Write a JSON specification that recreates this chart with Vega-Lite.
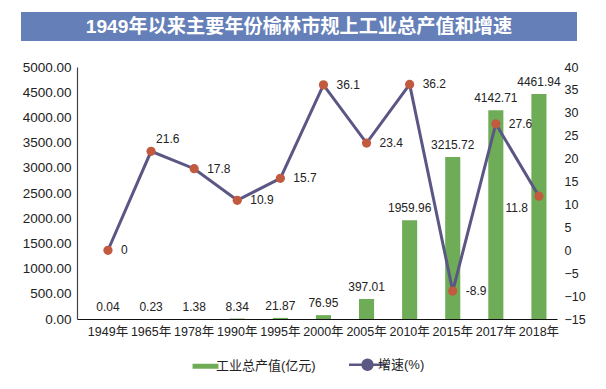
{
  "$schema": "https://vega.github.io/schema/vega-lite/v6.json",
  "background": "white",
  "padding": {"left": 21, "top": 12, "right": 0, "bottom": 0},
  "config": {
    "view": {"stroke": null},
    "concat": {"spacing": 19},
    "font": "Liberation Sans, Noto Sans CJK SC",
    "axis": {"labelFont": "Liberation Sans, Noto Sans CJK SC", "labelColor": "#222", "grid": false, "ticks": false, "title": null}
  },
  "vconcat": [
    {
      "width": 556,
      "height": 29,
      "view": {"fill": "#6580b9", "stroke": null},
      "data": {"values": [{"t": "1949年以来主要年份榆林市规上工业总产值和增速"}]},
      "mark": {"type": "text", "color": "white", "fontSize": 19.2, "fontWeight": "bold", "font": "Liberation Sans, Noto Sans CJK SC", "baseline": "middle", "align": "center"},
      "encoding": {"text": {"field": "t", "type": "nominal"}}
    },
    {
      "align": "none",
      "spacing": 0,
      "hconcat": [
        {
          "width": 1,
          "height": 1,
          "data": {"values": []},
          "mark": "text"
        },
        {
          "width": 480,
          "height": 252,
          "data": {"values": [
            {"year": "1949年", "output": 0.04, "growth": 0},
            {"year": "1965年", "output": 0.23, "growth": 21.6},
            {"year": "1978年", "output": 1.38, "growth": 17.8},
            {"year": "1990年", "output": 8.34, "growth": 10.9},
            {"year": "1995年", "output": 21.87, "growth": 15.7},
            {"year": "2000年", "output": 76.95, "growth": 36.1},
            {"year": "2005年", "output": 397.01, "growth": 23.4},
            {"year": "2010年", "output": 1959.96, "growth": 36.2},
            {"year": "2015年", "output": 3215.72, "growth": -8.9},
            {"year": "2017年", "output": 4142.71, "growth": 27.6},
            {"year": "2018年", "output": 4461.94, "growth": 11.8}
          ]},
          "encoding": {
            "x": {
              "field": "year", "type": "nominal", "sort": null,
              "scale": {"paddingInner": 0.65, "paddingOuter": 0.394, "align": 0.69},
              "axis": {"labelAngle": 0, "labelFontSize": 12.5, "labelPadding": 6, "domainColor": "#111", "domainWidth": 1.2}
            }
          },
          "layer": [
            {
              "encoding": {
                "y": {
                  "field": "output", "type": "quantitative",
                  "scale": {"domain": [0, 5000], "nice": false},
                  "axis": {"orient": "left", "values": [0, 500, 1000, 1500, 2000, 2500, 3000, 3500, 4000, 4500, 5000], "format": ".2f", "labelFontSize": 13.5, "labelPadding": 6, "domainColor": "#444", "domainWidth": 1.2}
                }
              },
              "layer": [
                {
                  "mark": {"type": "bar", "color": "#6fac57"},
                  "encoding": {
                    "color": {
                      "datum": "工业总产值(亿元)",
                      "scale": {"domain": ["工业总产值(亿元)", "增速(%)"], "range": ["#6fac57", "#5b5785"]},
                      "legend": {
                        "title": null,
                        "orient": "none",
                        "direction": "horizontal",
                        "legendX": 178,
                        "legendY": 346,
                        "symbolSize": 1369,
                        "labelFontSize": 13,
                        "labelColor": "#222",
                        "labelFont": "Liberation Sans, Noto Sans CJK SC",
                        "labelOffset": 4,
                        "columnPadding": 28,
                        "encode": {
                          "symbols": {
                            "update": {
                              "shape": {"signal": "datum.value === '增速(%)' ? 'M-1,0H-0.27M0.27,0H1M0.27,0A0.27,0.27 0 1 1 -0.27,0A0.27,0.27 0 1 1 0.27,0Z' : 'M-0.7,-0.135H0.7V0.135H-0.7Z'"},
                              "fill": {"signal": "datum.value === '增速(%)' ? '#c25a40' : '#6fac57'"},
                              "stroke": {"signal": "datum.value === '增速(%)' ? '#5b5785' : 'transparent'"},
                              "strokeWidth": {"signal": "datum.value === '增速(%)' ? 2.5 : 0"},
                              "opacity": {"value": 1},
                              "fillOpacity": {"value": 1},
                              "strokeOpacity": {"value": 1}
                            }
                          }
                        }
                      }
                    }
                  }
                },
                {
                  "mark": {"type": "text", "baseline": "bottom", "dy": -5, "fontSize": 12, "color": "#222"},
                  "encoding": {"text": {"field": "output", "type": "quantitative", "format": ".2f"}}
                }
              ]
            },
            {
              "encoding": {
                "y": {
                  "field": "growth", "type": "quantitative",
                  "scale": {"domain": [-15, 40], "nice": false, "zero": false},
                  "axis": {"orient": "right", "values": [-15, -10, -5, 0, 5, 10, 15, 20, 25, 30, 35, 40], "labelFontSize": 12.5, "labelPadding": 7, "domain": false}
                }
              },
              "layer": [
                {
                  "mark": {"type": "line", "strokeWidth": 3},
                  "encoding": {"color": {"datum": "增速(%)"}}
                },
                {
                  "mark": {"type": "point", "filled": true, "size": 85, "color": "#c25a40", "opacity": 1}
                },
                {
                  "transform": [{"filter": "datum.year !== '1965年' && datum.year !== '2018年'"}],
                  "mark": {"type": "text", "align": "left", "baseline": "middle", "dx": 13, "fontSize": 12, "color": "#222"},
                  "encoding": {"text": {"field": "growth", "type": "nominal"}}
                },
                {
                  "transform": [{"filter": "datum.year === '1965年'"}],
                  "mark": {"type": "text", "align": "left", "baseline": "middle", "dx": 5, "dy": -12, "fontSize": 12, "color": "#222"},
                  "encoding": {"text": {"field": "growth", "type": "nominal"}}
                },
                {
                  "transform": [{"filter": "datum.year === '2018年'"}],
                  "mark": {"type": "text", "align": "right", "baseline": "middle", "dx": -11, "dy": 12, "fontSize": 12, "color": "#222"},
                  "encoding": {"text": {"field": "growth", "type": "nominal"}}
                }
              ]
            }
          ],
          "resolve": {"scale": {"y": "independent"}}
        }
      ]
    }
  ]
}
